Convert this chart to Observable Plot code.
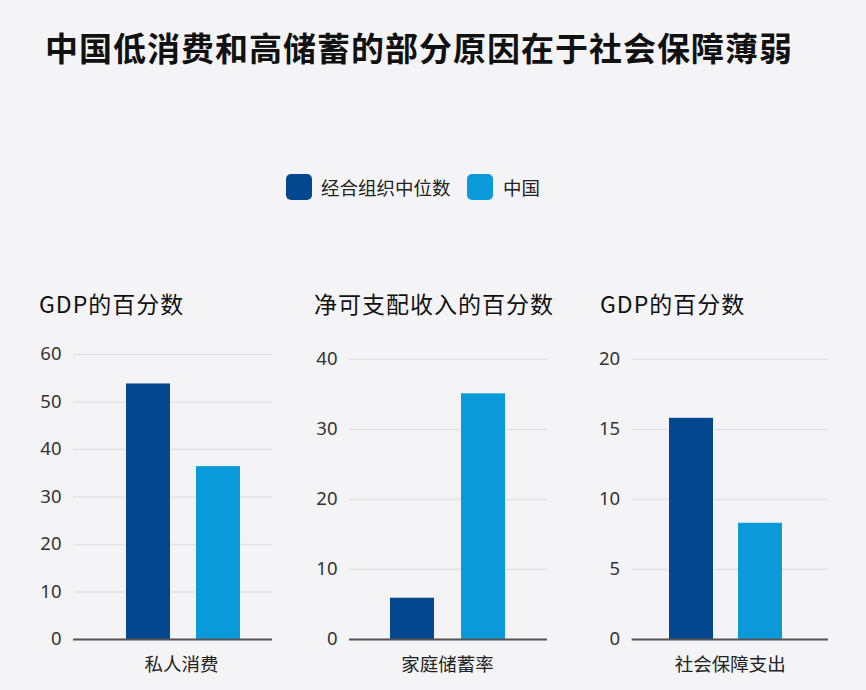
<!DOCTYPE html>
<html>
<head>
<meta charset="utf-8">
<script src="https://cdn.jsdelivr.net/npm/d3@7"></script>
<script src="https://cdn.jsdelivr.net/npm/@observablehq/plot@0.6"></script>
<style>
  html, body { margin: 0; padding: 0; background: #f4f4f6; }
  #root { position: relative; width: 866px; height: 690px; background: #f4f4f6; overflow: hidden;
    font-family: "Noto Sans CJK SC", "Noto Sans", sans-serif; color: #111; }
  .abs { position: absolute; white-space: nowrap; line-height: 1; }
  #title { left: 45px; top: 31px; font-size: 33px; font-weight: 700; letter-spacing: 1px; color: #111; }
  .unit { font-size: 23px; letter-spacing: 1px; font-weight: 400; color: #111; }
  .sw { position: absolute; width: 26px; height: 26px; border-radius: 5px; }
  .lt { font-size: 18.5px; color: #222; }
</style>
</head>
<body>
<div id="root"></div>
<script>
// ---- data ----
const title = "中国低消费和高储蓄的部分原因在于社会保障薄弱";
const series = ["经合组织中位数", "中国"];
const colors = ["#03478f", "#0a9ad9"];
const categories = ["私人消费", "家庭储蓄率", "社会保障支出"];
const units = ["GDP的百分数", "净可支配收入的百分数", "GDP的百分数"];
const oecdValues = [53.8, 5.9, 15.8];
const chinaValues = [36.4, 35.1, 8.3];
const yTicks = [
  [0, 10, 20, 30, 40, 50, 60],
  [0, 10, 20, 30, 40],
  [0, 5, 10, 15, 20]
];

// ---- layout ----
const root = document.getElementById("root");
const t = document.createElement("div");
t.id = "title"; t.className = "abs"; t.textContent = title;
root.appendChild(t);

// legend
const legendPos = [{sw: 286, tx: 321}, {sw: 467, tx: 503}];
series.forEach((s, i) => {
  const sw = document.createElement("div");
  sw.className = "sw"; sw.style.left = legendPos[i].sw + "px"; sw.style.top = "174px";
  sw.style.background = colors[i];
  root.appendChild(sw);
  const tx = document.createElement("div");
  tx.className = "abs lt"; tx.style.left = legendPos[i].tx + "px"; tx.style.top = "178px";
  tx.textContent = s;
  root.appendChild(tx);
});

const panels = [
  {left: 0,   width: 290, mL: 73,   mR: 18, mT: 24, xr: [125.7, 240.6], pi: 0.367, dx: 8.5, unitLeft: 39},
  {left: 290, width: 280, mL: 59,   mR: 23, mT: 29, xr: [99, 214.7],    pi: 0.386, dx: -1,  unitLeft: 314},
  {left: 570, width: 296, mL: 61.7, mR: 38, mT: 29, xr: [97.7, 212],    pi: 0.367, dx: 0,   unitLeft: 600}
];
const svgTop = 330, svgH = 360, zeroY = 639;

panels.forEach((p, i) => {
  const u = document.createElement("div");
  u.className = "abs unit"; u.style.left = p.unitLeft + "px"; u.style.top = "292px";
  u.textContent = units[i];
  root.appendChild(u);

  const rows = [
    {series: series[0], value: oecdValues[i]},
    {series: series[1], value: chinaValues[i]}
  ];
  const ticks = yTicks[i];
  const chart = Plot.plot({
    width: p.width,
    height: svgH,
    marginLeft: p.mL,
    marginRight: p.mR,
    marginTop: p.mT,
    marginBottom: svgTop + svgH - zeroY,
    style: {background: "transparent", overflow: "visible", fontFamily: "'Noto Sans', 'Noto Sans CJK SC', sans-serif"},
    x: {type: "band", domain: series, range: p.xr, paddingInner: p.pi, paddingOuter: 0, axis: null},
    y: {domain: [0, ticks[ticks.length - 1]], ticks: ticks, axis: null},
    color: {domain: series, range: colors},
    marks: [
      Plot.gridY(ticks, {stroke: "#e2e2e7", strokeOpacity: 1, strokeWidth: 1.5}),
      Plot.axisY(ticks, {tickSize: 0, tickPadding: 12, fontSize: 18.5, fill: "#333", label: null}),
      Plot.barY(rows, {x: "series", y: "value", fill: "series"}),
      Plot.ruleY([0], {stroke: "#555", strokeWidth: 2}),
      Plot.text([categories[i]], {text: d => d, frameAnchor: "bottom", dy: 31, dx: p.dx,
        fontSize: 18.5, fill: "#222", fontFamily: "'Noto Sans CJK SC', sans-serif"})
    ]
  });
  chart.style.position = "absolute";
  chart.style.left = p.left + "px";
  chart.style.top = svgTop + "px";
  root.appendChild(chart);
});
</script>
</body>
</html>
